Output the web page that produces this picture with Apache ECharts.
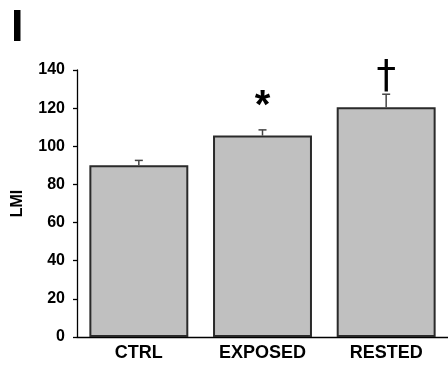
<!DOCTYPE html>
<html>
<head>
<meta charset="utf-8">
<script src="https://cdn.jsdelivr.net/npm/echarts@6/dist/echarts.min.js"></script>
<style>
  html, body { margin: 0; padding: 0; background: #fff; }
  #chart { width: 448px; height: 366px; }
</style>
</head>
<body>
<div id="chart"></div>
<script>
// Group names, mean LMI and the upper error (SEM) for each group
var categories = ['CTRL', 'EXPOSED', 'RESTED'];
var means = [90, 105.6, 120.5];
var errors = [2.6, 3.0, 6.8];
// Significance markers drawn above each error bar
var markers = ['', '*', '\u2020'];
var yTicks = [0, 20, 40, 60, 80, 100, 120, 140];

var FONT = '"Liberation Sans", Arial, sans-serif';
var chart = echarts.init(document.getElementById('chart'));

var errData = categories.map(function (c, i) {
  return [i, means[i], means[i] + errors[i], markers[i]];
});

chart.setOption({
  animation: false,
  graphic: [{
    type: 'text', left: 11, top: 6,
    style: { text: 'I', font: 'bold 45px ' + FONT, fill: '#000' }
  }],
  grid: { left: 77, right: 0, top: 70, bottom: 29, containLabel: false },
  xAxis: {
    type: 'category',
    data: categories,
    axisLine: { lineStyle: { color: '#000', width: 1.3 } },
    axisTick: { show: false },
    axisLabel: { color: '#000', fontFamily: FONT, fontWeight: 'bold', fontSize: 18, margin: 7 }
  },
  yAxis: {
    type: 'value',
    min: yTicks[0],
    max: yTicks[yTicks.length - 1],
    interval: 20,
    name: 'LMI',
    nameLocation: 'middle',
    nameRotate: 90,
    nameGap: 51,
    nameTextStyle: { color: '#000', fontFamily: FONT, fontWeight: 'bold', fontSize: 16 },
    splitLine: { show: false },
    axisLine: { show: true, lineStyle: { color: '#000', width: 1.3 } },
    axisTick: { show: true, length: 4, lineStyle: { color: '#000', width: 1.3 } },
    axisLabel: { color: '#000', fontFamily: FONT, fontWeight: 'bold', fontSize: 16, margin: 12 }
  },
  series: [{
    type: 'bar',
    data: means,
    barWidth: '80%',
    itemStyle: { color: '#c0c0c0', borderColor: '#2a2a2a', borderWidth: 2 },
    z: 2
  }, {
    type: 'custom',
    data: errData,
    z: 3,
    renderItem: function (params, api) {
      var i = api.value(0);
      var base = api.coord([i, api.value(1)]);
      var top = api.coord([i, api.value(2)]);
      var half = 4;
      var children = [{
        type: 'line',
        shape: { x1: base[0], y1: base[1], x2: top[0], y2: top[1] },
        style: { stroke: '#444', lineWidth: 1.5 }
      }, {
        type: 'line',
        shape: { x1: top[0] - half, y1: top[1], x2: top[0] + half, y2: top[1] },
        style: { stroke: '#444', lineWidth: 1.5 }
      }];
      var mark = markers[i];
      if (mark === '*') {
        children.push({
          type: 'text',
          style: {
            text: mark, x: top[0], y: top[1] - 23,
            font: 'bold 40px ' + FONT, fill: '#000',
            textAlign: 'center', textVerticalAlign: 'middle'
          }
        });
      } else if (mark) {
        children.push({
          type: 'text',
          style: {
            text: mark, x: top[0], y: top[1] - 16,
            font: '39px "DejaVu Sans", ' + FONT, fill: '#000',
            textAlign: 'center', textVerticalAlign: 'middle'
          }
        });
      }
      return { type: 'group', children: children };
    }
  }]
});
</script>
</body>
</html>
